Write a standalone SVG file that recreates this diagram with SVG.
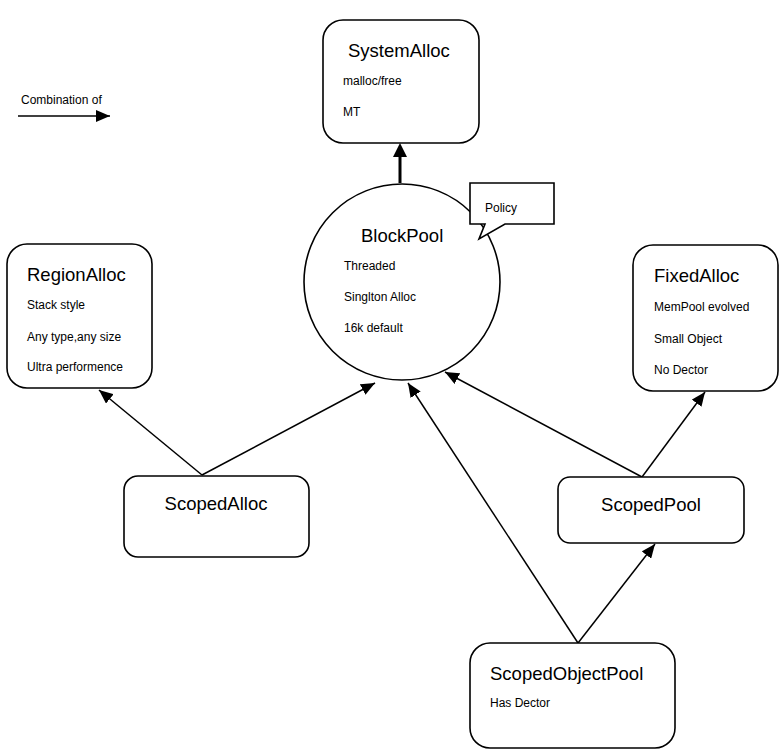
<svg xmlns="http://www.w3.org/2000/svg" width="784" height="752" viewBox="0 0 784 752">
<style>
.box{fill:#fff;stroke:#000;stroke-width:1.6}
.t{font-family:"Liberation Sans",Arial,sans-serif;font-size:18.5px;fill:#000}
.s{font-family:"Liberation Sans",Arial,sans-serif;font-size:12px;fill:#000}
.c{fill:none;stroke:#000;stroke-width:1.5}
</style>
<defs>
<marker id="ah" viewBox="0 0 14 12" refX="14" refY="6" markerWidth="14" markerHeight="12" markerUnits="userSpaceOnUse" orient="auto">
<path d="M0,0 L14,6 L0,12 Z" fill="#000"/>
</marker>
</defs>
<rect width="784" height="752" fill="#fff"/>
<g id="legend">
<text class="s" x="21" y="104">Combination of</text>
<line class="c" x1="18" y1="116" x2="110" y2="116" marker-end="url(#ah)"/>
</g>
<g id="connectors">
<line x1="400" y1="183" x2="400" y2="150" stroke="#000" stroke-width="3"/>
<path d="M393,157 L400,143 L407,157 Z" fill="#000"/>
<line class="c" x1="202" y1="475" x2="99" y2="390" marker-end="url(#ah)"/>
<line class="c" x1="202" y1="475" x2="375" y2="383" marker-end="url(#ah)"/>
<line class="c" x1="642" y1="477" x2="445" y2="372" marker-end="url(#ah)"/>
<line class="c" x1="642" y1="477" x2="705" y2="392" marker-end="url(#ah)"/>
<line class="c" x1="578" y1="643" x2="408" y2="383" marker-end="url(#ah)"/>
<line class="c" x1="578" y1="643" x2="655" y2="544" marker-end="url(#ah)"/>
</g>
<g id="SystemAlloc">
<rect class="box" x="323" y="20" width="156" height="123" rx="20"/>
<text class="t" x="348" y="57">SystemAlloc</text>
<text class="s" x="343" y="85">malloc/free</text>
<text class="s" x="343" y="116">MT</text>
</g>
<g id="BlockPool">
<circle class="box" cx="402" cy="282" r="98"/>
<text class="t" x="361" y="242">BlockPool</text>
<text class="s" x="344" y="270">Threaded</text>
<text class="s" x="344" y="301">Singlton Alloc</text>
<text class="s" x="344" y="332">16k default</text>
</g>
<g id="Policy">
<path class="box" d="M470,183 L554,183 L554,224 L505,224 L479,239 L485,224 L470,224 Z"/>
<text class="s" x="485" y="212">Policy</text>
</g>
<g id="RegionAlloc">
<rect class="box" x="7" y="244" width="145" height="144" rx="20"/>
<text class="t" x="27" y="281">RegionAlloc</text>
<text class="s" x="27" y="309">Stack style</text>
<text class="s" x="27" y="341">Any type,any size</text>
<text class="s" x="27" y="371">Ultra performence</text>
</g>
<g id="FixedAlloc">
<rect class="box" x="633" y="245" width="145" height="146" rx="20"/>
<text class="t" x="654" y="282">FixedAlloc</text>
<text class="s" x="654" y="311">MemPool evolved</text>
<text class="s" x="654" y="343">Small Object</text>
<text class="s" x="654" y="374">No Dector</text>
</g>
<g id="ScopedAlloc">
<rect class="box" x="124" y="476" width="185" height="81" rx="14"/>
<text class="t" x="216" y="510" text-anchor="middle">ScopedAlloc</text>
</g>
<g id="ScopedPool">
<rect class="box" x="558" y="477" width="186" height="66" rx="12"/>
<text class="t" x="651" y="511" text-anchor="middle">ScopedPool</text>
</g>
<g id="ScopedObjectPool">
<rect class="box" x="470" y="643" width="205" height="105" rx="20"/>
<text class="t" x="490" y="680">ScopedObjectPool</text>
<text class="s" x="490" y="707">Has Dector</text>
</g>
</svg>
